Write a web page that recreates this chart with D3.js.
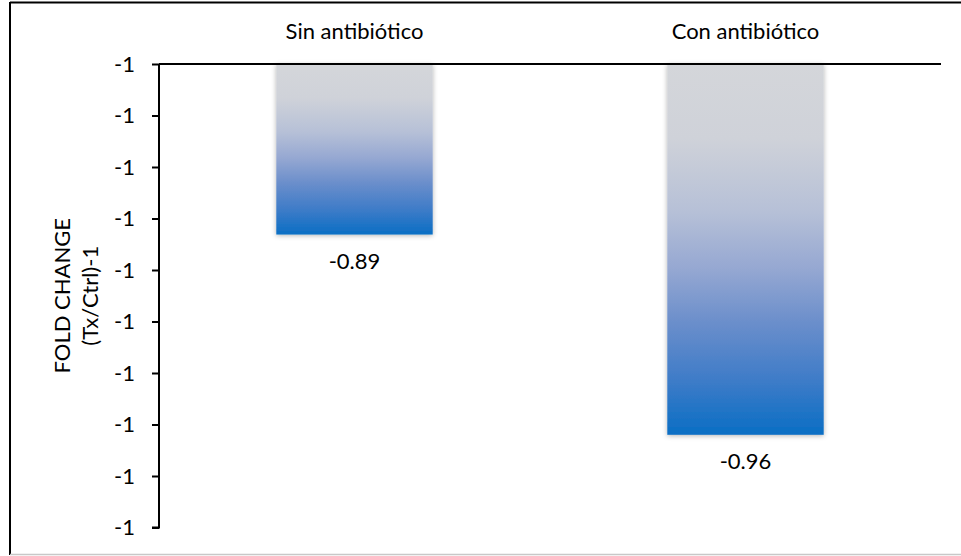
<!DOCTYPE html>
<html>
<head>
<meta charset="utf-8">
<script src="https://cdn.jsdelivr.net/npm/d3@7"></script>
<style>
  html, body { margin: 0; padding: 0; background: #fff; }
  svg { display: block; font-family: Lato, "Open Sans", sans-serif; }
</style>
</head>
<body>
<svg id="chart" width="961" height="556"></svg>
<script>
// Fold change (Tx/Ctrl)-1 per treatment group
const categories = ["Sin antibiótico", "Con antibiótico"];
const values = [-0.89, -0.96];
const yDomain = [-0.8304, -0.9924];
const yTicks = [-0.8304, -0.8484, -0.8664, -0.8844, -0.9024, -0.9204, -0.9384, -0.9564, -0.9744, -0.9924];
const yTitle = ["FOLD CHANGE", "(Tx/Ctrl)-1"];

const FONT = 22;
const svg = d3.select("#chart");
const plot = { left: 159, right: 941, top: 64, bottom: 527.5 };

const x = d3.scaleBand()
  .domain(categories)
  .range([plot.left, plot.right])
  .paddingInner(0.6)
  .paddingOuter(0.3);

const y = d3.scaleLinear()
  .domain(yDomain)
  .range([plot.top, plot.bottom]);

// Chart frame
svg.append("line").attr("x1", 10).attr("x2", 10).attr("y1", 2).attr("y2", 555)
  .attr("stroke", "#000").attr("stroke-width", 2);
svg.append("line").attr("x1", 10).attr("x2", 961).attr("y1", 2.5).attr("y2", 2.5)
  .attr("stroke", "#000").attr("stroke-width", 2);
svg.append("line").attr("x1", 10).attr("x2", 961).attr("y1", 554.5).attr("y2", 554.5)
  .attr("stroke", "#c8c8c8").attr("stroke-width", 1.5);

const defs = svg.append("defs");
const grad = defs.append("linearGradient")
  .attr("id", "barFill").attr("x1", 0).attr("y1", 0).attr("x2", 0).attr("y2", 1);
[
  [0, "#d4d6da"],
  [0.2, "#cfd2d9"],
  [0.4, "#b6c0d7"],
  [0.55, "#96a8d2"],
  [0.7, "#6a8ecb"],
  [0.85, "#3f7cc8"],
  [1, "#0a6ec4"]
].forEach(([o, c]) => grad.append("stop").attr("offset", o).attr("stop-color", c));

const shadow = defs.append("filter").attr("id", "barShadow")
  .attr("x", "-10%").attr("y", "-10%").attr("width", "120%").attr("height", "120%");
shadow.append("feDropShadow").attr("dx", 0).attr("dy", 1).attr("stdDeviation", 2.5)
  .attr("flood-color", "#000").attr("flood-opacity", 0.3);

// Bars hang down from the top axis
svg.append("g").selectAll("rect")
  .data(categories)
  .join("rect")
  .attr("x", d => x(d))
  .attr("width", x.bandwidth())
  .attr("y", y(yDomain[0]))
  .attr("height", (d, i) => y(values[i]) - y(yDomain[0]))
  .attr("fill", "url(#barFill)")
  .attr("filter", "url(#barShadow)");

// Value labels under each bar
svg.append("g").selectAll("text")
  .data(categories)
  .join("text")
  .attr("x", d => x(d) + x.bandwidth() / 2)
  .attr("y", (d, i) => y(values[i]) + 34)
  .attr("text-anchor", "middle")
  .attr("font-size", FONT)
  .attr("fill", "#000")
  .text((d, i) => values[i].toFixed(2));

// Left value axis
const yAxis = svg.append("g")
  .attr("transform", `translate(${plot.left},0)`)
  .call(d3.axisLeft(y).tickValues(yTicks).tickSize(7).tickPadding(17)
    .tickFormat(v => String(Math.round(v))));
yAxis.select(".domain").attr("stroke", "#000").attr("stroke-width", 2)
  .attr("d", `M0,${plot.top}V${plot.bottom}H-7`);
yAxis.selectAll(".tick line").attr("stroke", "#000").attr("stroke-width", 2);
yAxis.selectAll(".tick text").attr("font-size", FONT).attr("font-family", "Lato, sans-serif").attr("fill", "#000");

// Top category axis
const xAxis = svg.append("g")
  .attr("transform", `translate(0,${plot.top})`)
  .call(d3.axisTop(x).tickSize(0).tickPadding(25));
xAxis.select(".domain").attr("stroke", "#000").attr("stroke-width", 2)
  .attr("d", `M${plot.left},0H${plot.right}`);
xAxis.selectAll(".tick text").attr("font-size", FONT).attr("font-family", "Lato, sans-serif").attr("fill", "#000");

// Axis title
const cy = (plot.top + plot.bottom) / 2;
svg.append("text")
  .attr("transform", `translate(62,${cy}) rotate(-90)`)
  .attr("text-anchor", "middle")
  .attr("font-size", FONT)
  .selectAll("tspan")
  .data(yTitle)
  .join("tspan")
  .attr("x", 0)
  .attr("dy", (d, i) => i === 0 ? "0.35em" : "1.3em")
  .text(d => d);
</script>
</body>
</html>
